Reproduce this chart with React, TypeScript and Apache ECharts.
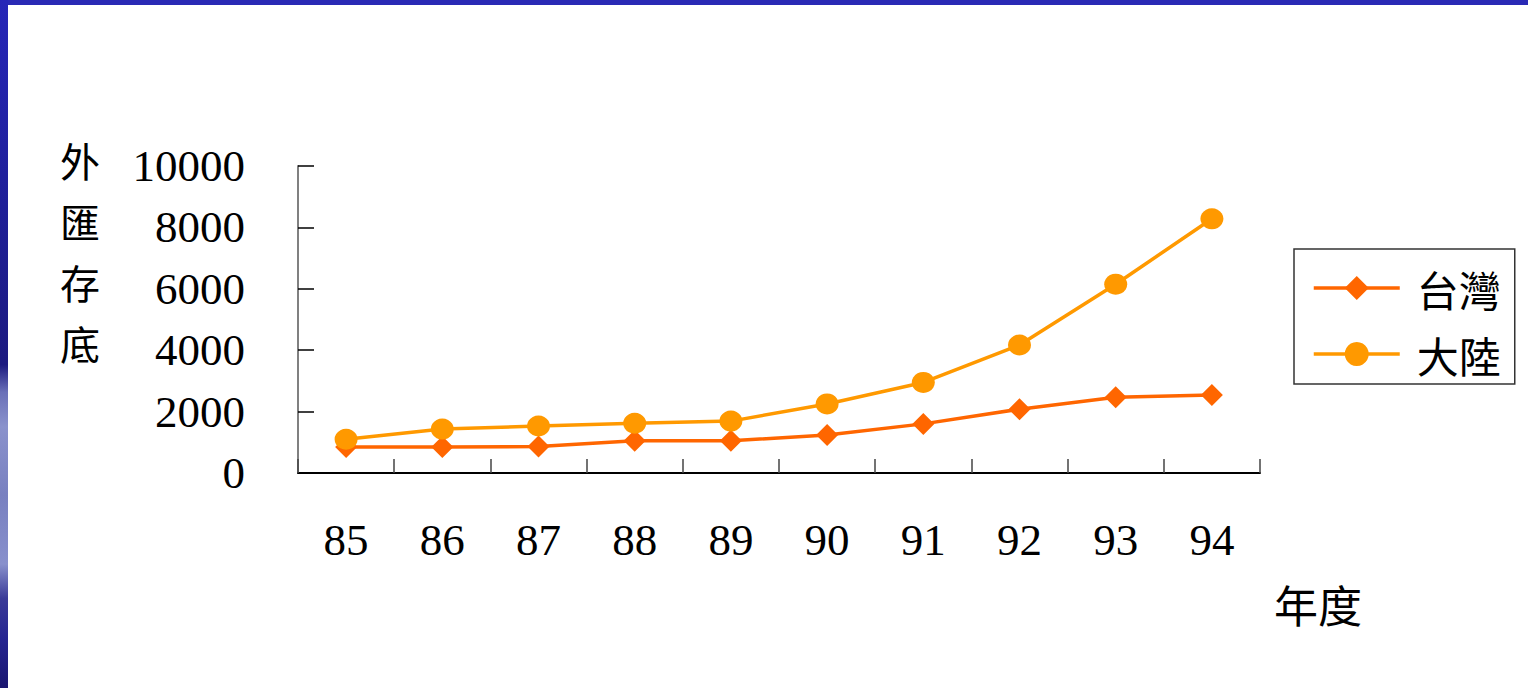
import React, { useEffect, useRef } from "react";
import * as echarts from "echarts";

// 年度（民國）
const years = ["85", "86", "87", "88", "89", "90", "91", "92", "93", "94"];
// 外匯存底（億美元）
const taiwanReserves = [850, 850, 860, 1050, 1050, 1240, 1600, 2080, 2470, 2540];
const mainlandReserves = [1100, 1430, 1530, 1620, 1690, 2250, 2950, 4170, 6150, 8280];
const yTicks = [0, 2000, 4000, 6000, 8000, 10000];

const seriesNames = ["台灣", "大陸"];
const seriesColors = ["#FF6600", "#FF9900"];

const yAxisTitle = ["外", "匯", "存", "底"];
const xAxisTitle = "年度";

const SERIF = "'Liberation Serif', 'Times New Roman', serif";
const CJK = "'Noto Sans CJK TC', 'Noto Sans CJK SC', sans-serif";

export default function App() {
  const ref = useRef<HTMLDivElement>(null);

  useEffect(() => {
    if (!ref.current) return;
    const chart = echarts.init(ref.current, undefined, { renderer: "svg" });

    const option = {
      animation: false,
      backgroundColor: "#ffffff",
      grid: { left: 298, right: 268, top: 166, bottom: 215, containLabel: false },
      xAxis: {
        type: "category",
        data: years,
        boundaryGap: true,
        axisLine: { show: true, lineStyle: { color: "#000000", width: 2 } },
        axisTick: { show: true, inside: true, length: 14, lineStyle: { color: "#444444", width: 1.5 } },
        axisLabel: { fontFamily: SERIF, fontSize: 45, color: "#000000", margin: 44 },
        splitLine: { show: false },
      },
      yAxis: {
        type: "value",
        min: yTicks[0],
        max: yTicks[yTicks.length - 1],
        interval: yTicks[1] - yTicks[0],
        axisLine: { show: true, lineStyle: { color: "#808080", width: 2 } },
        axisTick: { show: true, inside: true, length: 16, lineStyle: { color: "#000000", width: 1.5 } },
        axisLabel: {
          fontFamily: SERIF,
          fontSize: 45,
          color: "#000000",
          margin: 53,
          formatter: (v: number) => String(v),
        },
        splitLine: { show: false },
      },
      legend: {
        orient: "vertical",
        left: 1294,
        top: 249,
        padding: [17, 14, 8, 18],
        itemWidth: 86,
        itemHeight: 30,
        itemGap: 22,
        borderColor: "#333333",
        borderWidth: 1.5,
        backgroundColor: "#ffffff",
        lineStyle: { width: 3.5 },
        textStyle: {
          fontFamily: CJK,
          fontSize: 42,
          lineHeight: 44,
          color: "#000000",
          padding: [0, 0, 0, 12],
        },
        data: seriesNames,
      },
      series: [
        {
          name: seriesNames[0],
          type: "line",
          data: taiwanReserves,
          symbol: "diamond",
          symbolSize: [22, 22],
          lineStyle: { color: seriesColors[0], width: 3.5 },
          itemStyle: { color: seriesColors[0] },
          z: 2,
        },
        {
          name: seriesNames[1],
          type: "line",
          data: mainlandReserves,
          symbol: "circle",
          symbolSize: [23, 21],
          lineStyle: { color: seriesColors[1], width: 3.5 },
          itemStyle: { color: seriesColors[1] },
          z: 3,
        },
      ],
      graphic: [
        // slide frame: top bar and shaded left bar
        {
          type: "rect",
          shape: { x: 0, y: 0, width: 1528, height: 5 },
          style: { fill: "#2a2ab5" },
          silent: true,
        },
        {
          type: "rect",
          shape: { x: 0, y: 0, width: 8, height: 688 },
          style: {
            fill: new echarts.graphic.LinearGradient(0, 0, 0, 1, [
              { offset: 0, color: "#2626b8" },
              { offset: 0.3, color: "#1f1f98" },
              { offset: 0.53, color: "#1c1a80" },
              { offset: 0.57, color: "#6a70b8" },
              { offset: 0.62, color: "#8a92cc" },
              { offset: 0.72, color: "#7880c0" },
              { offset: 0.82, color: "#8890cc" },
              { offset: 0.87, color: "#3a3a98" },
              { offset: 0.93, color: "#252490" },
              { offset: 1, color: "#1a1670" },
            ]),
          },
          silent: true,
        },
        {
          type: "text",
          left: 60,
          top: 129,
          style: {
            text: yAxisTitle.join("\n"),
            font: `40px ${CJK}`,
            lineHeight: 61,
            fill: "#000000",
            align: "center",
          },
          silent: true,
        },
        {
          type: "text",
          left: 1274,
          top: 582,
          style: {
            text: xAxisTitle,
            font: `44px ${CJK}`,
            fill: "#000000",
          },
          silent: true,
        },
      ],
    };

    chart.setOption(option);
    return () => chart.dispose();
  }, []);

  return (
    <div
      ref={ref}
      style={{ position: "absolute", left: 0, top: 0, width: 1528, height: 688 }}
    />
  );
}
